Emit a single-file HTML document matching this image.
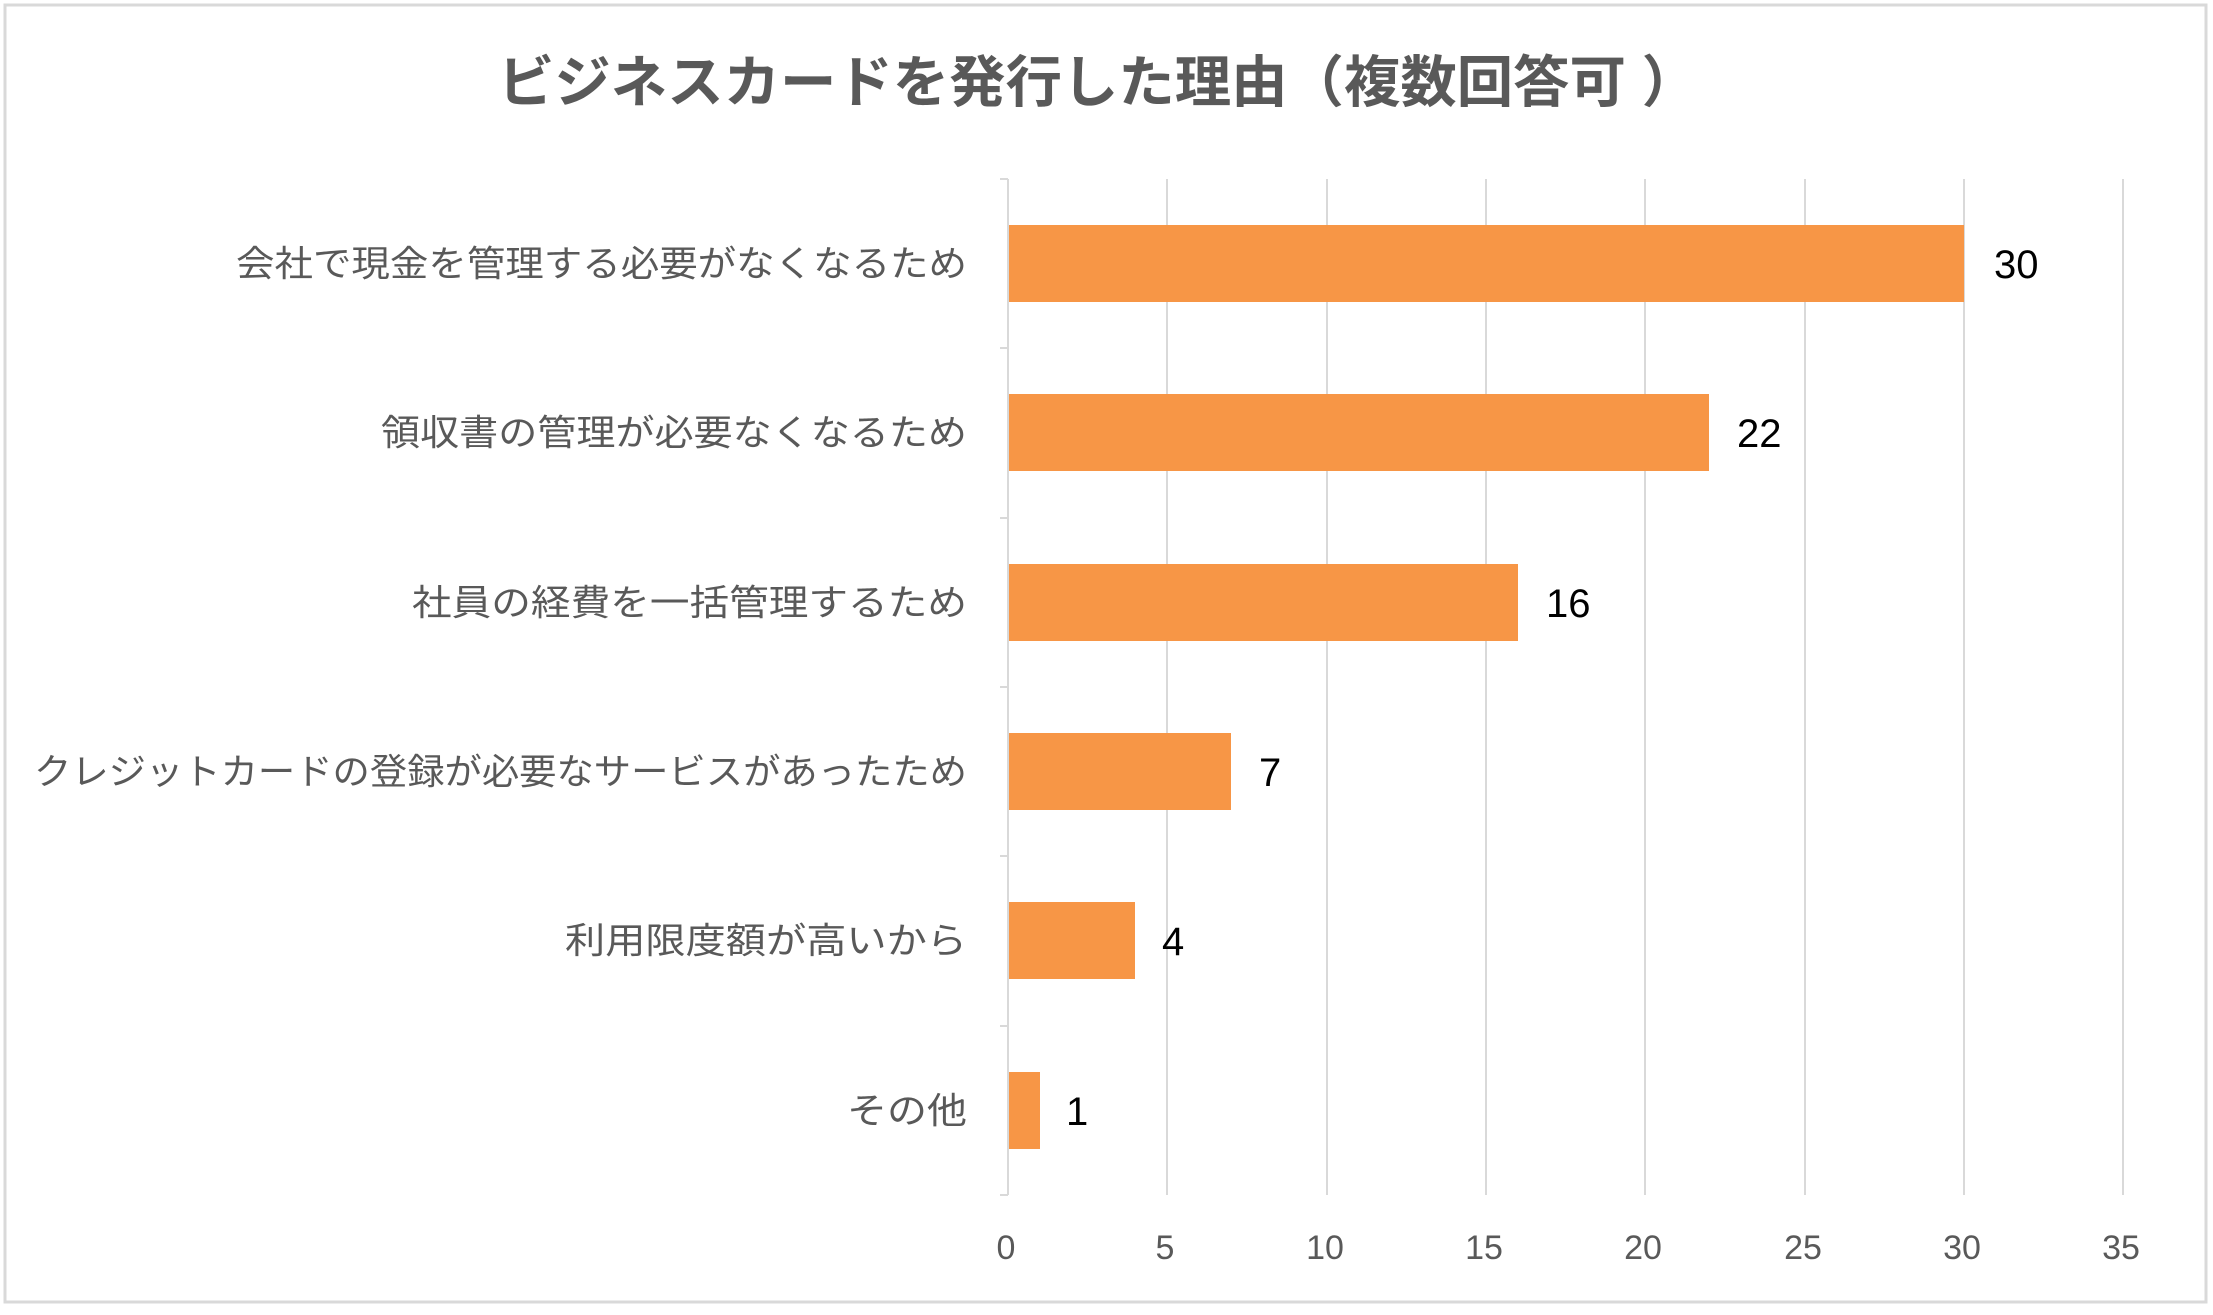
<!DOCTYPE html>
<html><head><meta charset="utf-8"><style>html,body{margin:0;padding:0;background:#fff}</style></head><body>
<svg width="2213" height="1310" xmlns="http://www.w3.org/2000/svg" font-family="'Liberation Sans','Noto Sans CJK JP',sans-serif">
<rect x="0" y="0" width="2213" height="1310" fill="#fff"/>
<rect x="5" y="5" width="2201" height="1297" fill="none" stroke="#d9d9d9" stroke-width="3"/>
<text x="1098" y="102" text-anchor="middle" font-size="56" font-weight="bold" fill="#595959" textLength="1200" lengthAdjust="spacingAndGlyphs">ビジネスカードを発行した理由（複数回答可 ）</text>
<g stroke="#d9d9d9" stroke-width="2">
<line x1="1167" y1="179" x2="1167" y2="1195"/>
<line x1="1327" y1="179" x2="1327" y2="1195"/>
<line x1="1486" y1="179" x2="1486" y2="1195"/>
<line x1="1645" y1="179" x2="1645" y2="1195"/>
<line x1="1805" y1="179" x2="1805" y2="1195"/>
<line x1="1964" y1="179" x2="1964" y2="1195"/>
<line x1="2123" y1="179" x2="2123" y2="1195"/>
<line x1="1008" y1="179" x2="1008" y2="1195"/>
<line x1="1000" y1="179" x2="1008" y2="179"/>
<line x1="1000" y1="348" x2="1008" y2="348"/>
<line x1="1000" y1="518" x2="1008" y2="518"/>
<line x1="1000" y1="687" x2="1008" y2="687"/>
<line x1="1000" y1="856" x2="1008" y2="856"/>
<line x1="1000" y1="1026" x2="1008" y2="1026"/>
<line x1="1000" y1="1195" x2="1008" y2="1195"/>
</g>
<g fill="#f79646">
<rect x="1009" y="225" width="955" height="77"/>
<rect x="1009" y="394" width="700" height="77"/>
<rect x="1009" y="564" width="509" height="77"/>
<rect x="1009" y="733" width="222" height="77"/>
<rect x="1009" y="902" width="126" height="77"/>
<rect x="1009" y="1072" width="31" height="77"/>
</g>
<g font-size="36" fill="#595959" text-anchor="end">
<text x="967" y="276" textLength="731" lengthAdjust="spacingAndGlyphs">会社で現金を管理する必要がなくなるため</text>
<text x="967" y="445" textLength="586" lengthAdjust="spacingAndGlyphs">領収書の管理が必要なくなるため</text>
<text x="967" y="615" textLength="555" lengthAdjust="spacingAndGlyphs">社員の経費を一括管理するため</text>
<text x="967" y="784" textLength="933" lengthAdjust="spacingAndGlyphs">クレジットカードの登録が必要なサービスがあったため</text>
<text x="967" y="953" textLength="402" lengthAdjust="spacingAndGlyphs">利用限度額が高いから</text>
<text x="967" y="1123" textLength="120" lengthAdjust="spacingAndGlyphs">その他</text>
</g>
<g font-size="40" fill="#000">
<text x="1994" y="278">30</text>
<text x="1737" y="447">22</text>
<text x="1546" y="617">16</text>
<text x="1259" y="786">7</text>
<text x="1162" y="955">4</text>
<text x="1066" y="1125">1</text>
</g>
<g font-size="34" fill="#595959" text-anchor="middle">
<text x="1006" y="1259">0</text>
<text x="1165" y="1259">5</text>
<text x="1325" y="1259">10</text>
<text x="1484" y="1259">15</text>
<text x="1643" y="1259">20</text>
<text x="1803" y="1259">25</text>
<text x="1962" y="1259">30</text>
<text x="2121" y="1259">35</text>
</g>
</svg>
</body></html>
